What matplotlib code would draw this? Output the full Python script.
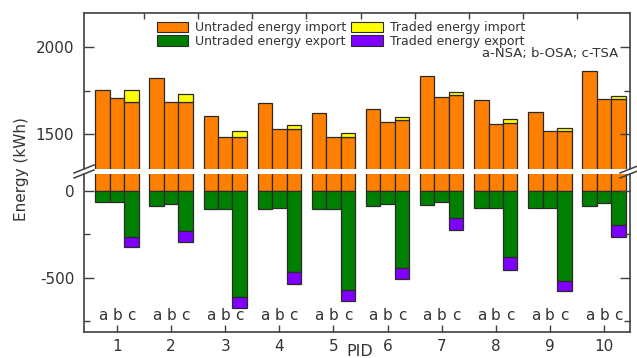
import numpy as np
import matplotlib
matplotlib.use("Agg")
import matplotlib.pyplot as plt
from matplotlib.patches import Patch
from matplotlib.lines import Line2D

plt.rcParams["axes.unicode_minus"] = False

# data (kWh)
pids = np.arange(1, 11)
import_a = [1753, 1820, 1603, 1680, 1621, 1644, 1832, 1695, 1625, 1860]
import_b = [1709, 1686, 1483, 1529, 1483, 1569, 1711, 1561, 1517, 1701]
import_c = [1686, 1686, 1483, 1529, 1483, 1580, 1722, 1565, 1517, 1703]
traded_import_c = [67, 44, 36, 24, 25, 20, 19, 19, 19, 14]
export_a = [-63, -86, -106, -106, -106, -86, -83, -100, -100, -86]
export_b = [-63, -73, -106, -96, -106, -73, -61, -100, -96, -69]
export_c = [-267, -231, -613, -469, -571, -442, -158, -382, -519, -196]
traded_export_c = [-58, -63, -60, -67, -61, -64, -67, -74, -60, -67]
scenarios = ["a", "b", "c"]

ORANGE = "#FF8000"
GREEN = "#008000"
YELLOW = "#FFFF00"
PURPLE = "#8000FF"
EDGE = "#2a2a2a"
SPINE = "#404040"
TEXT = "#333333"

W, H = 637, 358
fig = plt.figure(figsize=(W / 100, H / 100), dpi=100)


def fx(px):
    return px / W


def fy(py):
    return 1 - py / H


left, right = 84, 630
ax_top = fig.add_axes([fx(left), fy(169), fx(right - left), fy(13) - fy(169)])
ax_bot = fig.add_axes([fx(left), fy(332), fx(right - left), fy(174) - fy(332)])

bw = 0.267
offsets = [-bw, 0, bw]
kw = dict(width=bw, edgecolor=EDGE, linewidth=0.9)

for ax in (ax_top, ax_bot):
    ax.bar(pids + offsets[0], import_a, color=ORANGE, **kw)
    ax.bar(pids + offsets[1], import_b, color=ORANGE, **kw)
    ax.bar(pids + offsets[2], import_c, color=ORANGE, **kw)
    ax.bar(pids + offsets[2], traded_import_c, bottom=import_c, color=YELLOW, **kw)
    ax.bar(pids + offsets[0], export_a, color=GREEN, **kw)
    ax.bar(pids + offsets[1], export_b, color=GREEN, **kw)
    ax.bar(pids + offsets[2], export_c, color=GREEN, **kw)
    ax.bar(pids + offsets[2], traded_export_c, bottom=export_c, color=PURPLE, **kw)
    ax.set_xlim(0.39, 10.48)
    for s in ax.spines.values():
        s.set_color(SPINE)
        s.set_linewidth(1.2)

ax_top.set_ylim(1300, 2195)
ax_bot.set_ylim(-813, 98)

# top panel
ax_top.spines["bottom"].set_visible(False)
ax_top.xaxis.tick_top()
ax_top.set_xticks(np.arange(1.5, 10, 1))
ax_top.tick_params(axis="x", which="both", direction="in", length=4, width=1,
                   color=SPINE, labeltop=False)
ax_top.set_yticks([1500, 2000])
ax_top.set_yticks([1750], minor=True)

# bottom panel
ax_bot.spines["top"].set_visible(False)
ax_bot.set_xticks(pids)
ax_bot.tick_params(axis="x", direction="in", length=5, width=1, color=SPINE,
                   labelsize=11, pad=5, labelcolor=TEXT)
ax_bot.set_yticks([0, -500])
ax_bot.set_yticks([-250, -750], minor=True)

for ax in (ax_top, ax_bot):
    ax.tick_params(axis="y", which="major", direction="in", length=7, width=1,
                   color=SPINE, right=True, labelsize=11, pad=7, labelcolor=TEXT)
    ax.tick_params(axis="y", which="minor", direction="in", length=4, width=1,
                   color=SPINE, right=True)

# scenario letters under each bar
for p in pids:
    for off, s in zip(offsets, scenarios):
        ax_bot.text(p + off, -719, s, ha="center", va="center", fontsize=11,
                    color=TEXT)

# break marks on both vertical axes
for xc in (left, right):
    for yc in (169, 174):
        fig.add_artist(Line2D([fx(xc - 10), fx(xc + 10)], [fy(yc + 4), fy(yc - 4)],
                              color=SPINE, linewidth=1.1))

handles = [Patch(facecolor=ORANGE, edgecolor=EDGE, linewidth=0.8),
           Patch(facecolor=GREEN, edgecolor=EDGE, linewidth=0.8),
           Patch(facecolor=YELLOW, edgecolor=EDGE, linewidth=0.8),
           Patch(facecolor=PURPLE, edgecolor=EDGE, linewidth=0.8)]
labels = ["Untraded energy import", "Untraded energy export",
          "Traded energy import", "Traded energy export"]
fig.legend(handles, labels, ncol=2, loc="upper left",
           bbox_to_anchor=(fx(157), fy(21)), frameon=False, fontsize=9,
           borderpad=0, borderaxespad=0, handlelength=2.5, handleheight=0.9,
           handletextpad=0.55, labelspacing=0.05, columnspacing=0.4,
           labelcolor=TEXT)

fig.text(fx(618), fy(54), "a-NSA; b-OSA; c-TSA", ha="right", va="center",
         fontsize=9.5, color=TEXT)
fig.text(fx(22), fy(169), "Energy (kWh)", rotation=90, ha="center", va="center",
         fontsize=11, color=TEXT)
fig.text(fx(360), fy(344), "PID", ha="center", va="top", fontsize=11.5,
         color=TEXT)

fig.savefig("out.png", dpi=100)
